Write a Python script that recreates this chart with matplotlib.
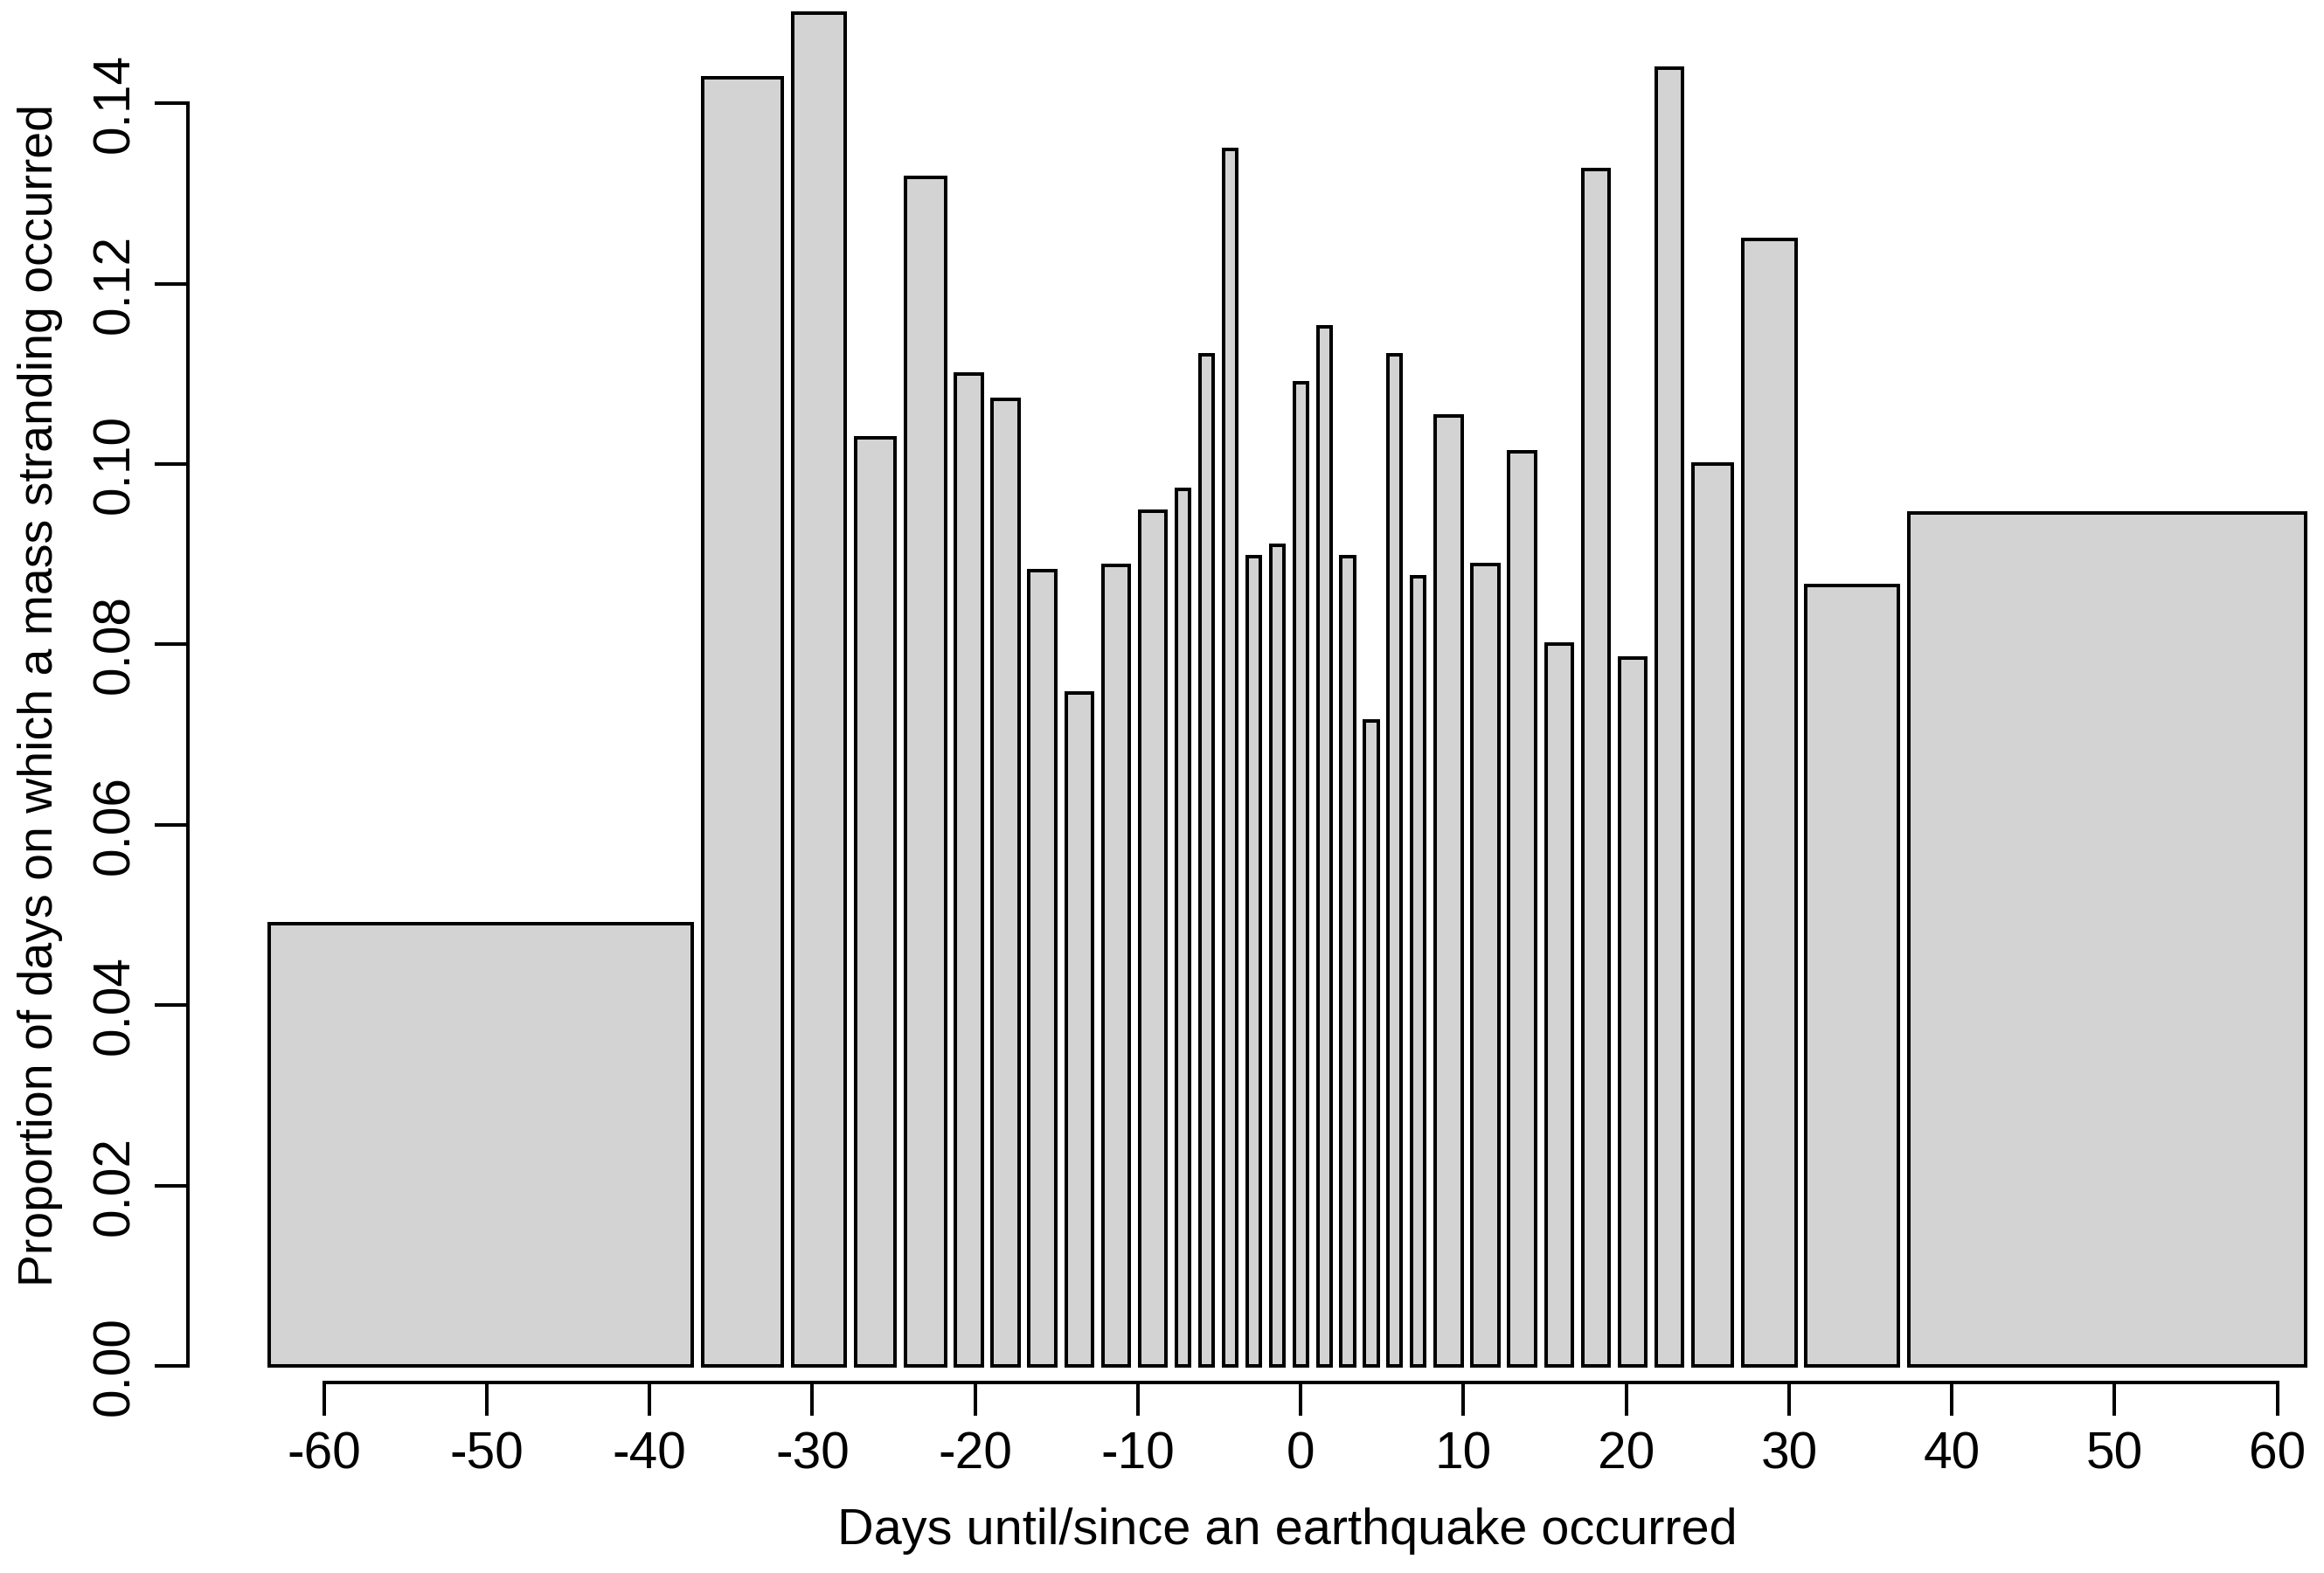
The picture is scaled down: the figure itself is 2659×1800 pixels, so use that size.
import numpy as np
import matplotlib
matplotlib.use("Agg")
import matplotlib.pyplot as plt
from matplotlib import font_manager

# ---- data ----
bin_days = [32, 6, 4, 3, 3, 2, 2, 2, 2, 2, 2,
            1, 1, 1, 1, 1, 1, 1, 1, 1, 1, 1,
            2, 2, 2, 2, 2, 2, 2, 3, 4, 7, 30]
proportion = [0.0490, 0.1428, 0.1500, 0.1029, 0.1318, 0.1100, 0.1072, 0.0882,
              0.0746, 0.0888, 0.0948, 0.0972, 0.1121, 0.1349, 0.0897, 0.0910,
              0.1090, 0.1152, 0.0897, 0.0715, 0.1121, 0.0875, 0.1053, 0.0889,
              0.1014, 0.0800, 0.1327, 0.0785, 0.1439, 0.1000, 0.1249, 0.0865,
              0.0946]
x_tick_labels = [-60, -50, -40, -30, -20, -10, 0, 10, 20, 30, 40, 50, 60]
y_ticks = [0.00, 0.02, 0.04, 0.06, 0.08, 0.10, 0.12, 0.14]
xlabel = "Days until/since an earthquake occurred"
ylabel = "Proportion of days on which a mass stranding occurred"

# ---- layout (R barplot-like) ----
W, H, DPI = 2659, 1800, 384
available = {f.name for f in font_manager.fontManager.ttflist}
if 'Liberation Sans Narrow' in available:
    families = ['Liberation Sans Narrow', 'DejaVu Sans']
    tick_fs, xlab_fs, ylab_fs = 12, 12, 12
else:
    families = ['Liberation Sans', 'DejaVu Sans']
    tick_fs, xlab_fs, ylab_fs = 11, 10.8, 10.4
plt.rcParams['font.family'] = families

widths = np.array(bin_days, dtype=float)
space = 0.2 * widths.mean()
right_edges = np.cumsum(space + widths)
left_edges = right_edges - widths
centers = left_edges + widths / 2

# axis mapping: day 0 at centre of the 1-day bin containing 0
zero_bin = 16
axis_zero = centers[zero_bin]
axis_scale = 1.2313
tick_pos = axis_zero + axis_scale * np.array(x_tick_labels)

fig = plt.figure(figsize=(W / DPI, H / DPI), dpi=DPI)
ax_left_px, ax_right_px = 215, 2731
ax_top_px, ax_bot_px = 8, 1582
ax = fig.add_axes([ax_left_px / W, 1 - ax_bot_px / H,
                   (ax_right_px - ax_left_px) / W, (ax_bot_px - ax_top_px) / H])
ax.patch.set_alpha(0)

xmin, xmax = left_edges.min(), right_edges.max()
pad = 0.04 * (xmax - xmin)
ax.set_xlim(xmin - pad, xmax + pad)
ax.set_ylim(-0.00184, 0.15069)

ax.bar(left_edges, proportion, width=widths, align='edge', color='#D3D3D3',
       edgecolor='black', linewidth=0.75, clip_on=False)

for s in ['top', 'right']:
    ax.spines[s].set_visible(False)
ax.spines['bottom'].set_bounds(tick_pos[0], tick_pos[-1])
ax.spines['left'].set_bounds(y_ticks[0], y_ticks[-1])
for s in ['bottom', 'left']:
    ax.spines[s].set_linewidth(0.75)
    ax.spines[s].set_capstyle('projecting')

ax.set_xticks(tick_pos)
ax.set_xticklabels([str(v) for v in x_tick_labels])
ax.set_yticks(y_ticks)
ax.set_yticklabels([f"{v:.2f}" for v in y_ticks])
ax.tick_params(axis='both', direction='out', length=7.2, width=0.75,
               labelsize=tick_fs, pad=3.2)
for lbl in ax.get_yticklabels():
    lbl.set_rotation(90)
    lbl.set_va('center')
    lbl.set_ha('right')

fig.text(1473 / W, 1 - 1767 / H, xlabel, ha='center', va='baseline', fontsize=xlab_fs)
fig.text(46 / W, 1 - 795 / H, ylabel, ha='center', va='center', rotation=90, fontsize=ylab_fs)

fig.savefig("out.png", dpi=DPI)
